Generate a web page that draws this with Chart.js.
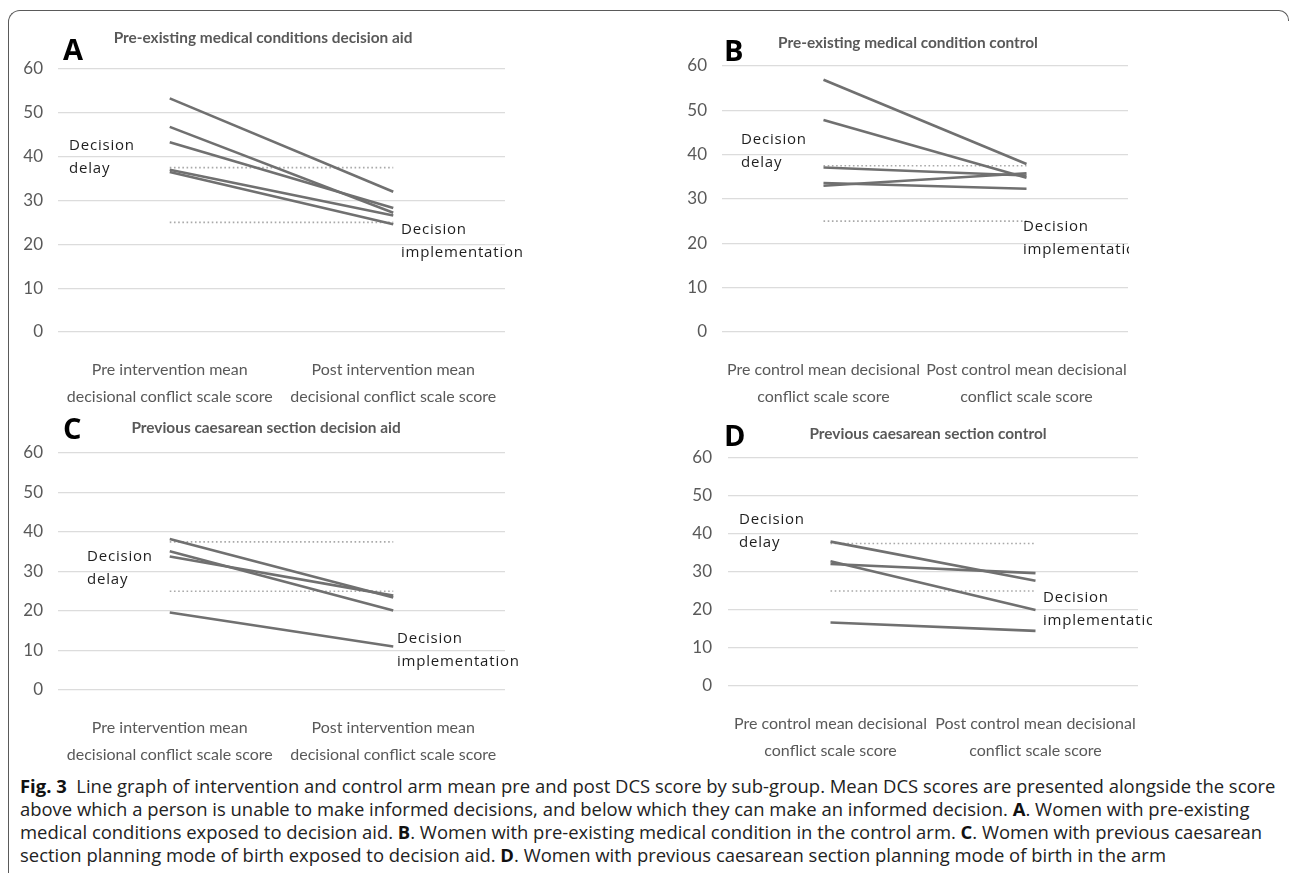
<!DOCTYPE html>
<html>
<head>
<meta charset="utf-8">
<script src="https://cdn.jsdelivr.net/npm/chart.js@4.4.0/dist/chart.umd.min.js"></script>
<style>
  body { margin:0; background:#fff; width:1293px; height:873px; position:relative; overflow:hidden; }
  .frame { position:absolute; left:8px; top:10px; width:1270px; height:900px; border-top:1.5px solid #5a5a5a; border-left:1.5px solid #5a5a5a; border-top-left-radius:12px; }
  .corner { position:absolute; left:1278px; top:10px; width:10px; height:10px; border-top:1.5px solid #5a5a5a; border-right:1.5px solid #5a5a5a; border-top-right-radius:10px; }
  canvas { position:absolute; }
  #caption { position:absolute; left:20px; top:774px; font-family:"Open Sans", sans-serif; font-size:15px; line-height:23px; color:#222; white-space:nowrap; }
  #caption b { color:#111; }
</style>
</head>
<body>
<div class="frame"></div>
<div class="corner"></div>
<canvas id="chartA" width="630" height="400" style="left:10px;top:12px"></canvas>
<canvas id="chartB" width="630" height="400" style="left:650px;top:12px"></canvas>
<canvas id="chartC" width="630" height="350" style="left:10px;top:415px"></canvas>
<canvas id="chartD" width="630" height="346" style="left:650px;top:415px"></canvas>
<div id="caption">
<div id="cap1"><b>Fig. 3</b>&nbsp; Line graph of intervention and control arm mean pre and post DCS score by sub-group. Mean DCS scores are presented alongside the score</div>
<div>above which a person is unable to make informed decisions, and below which they can make an informed decision. <b>A</b>. Women with pre-existing</div>
<div>medical conditions exposed to decision aid. <b>B</b>. Women with pre-existing medical condition in the control arm. <b>C</b>. Women with previous caesarean</div>
<div>section planning mode of birth exposed to decision aid. <b>D</b>. Women with previous caesarean section planning mode of birth in the arm</div>
</div>
<script>
// categories
const labelsIntervention = [['Pre intervention mean', 'decisional conflict scale score'], ['Post intervention mean', 'decisional conflict scale score']];
const labelsControl = [['Pre control mean decisional', 'conflict scale score'], ['Post control mean decisional', 'conflict scale score']];

// mean DCS scores, one line per participant group (pre -> post)
const preA = [53.3, 46.8, 43.3, 37.0, 36.5];
const postA = [32.0, 27.2, 28.3, 26.6, 24.6];
const preB = [56.9, 47.8, 37.1, 33.0, 33.6];
const postB = [37.9, 34.8, 35.3, 35.8, 32.3];
const preC = [38.2, 35.1, 33.8, 19.6];
const postC = [23.4, 20.1, 23.9, 11.0];
const preD = [38.0, 32.1, 32.8, 16.7];
const postD = [27.7, 29.7, 20.0, 14.5];

// thresholds
const delayCut = 37.5;
const implementCut = 25;

const yTicks = [0, 10, 20, 30, 40, 50, 60];

const lineColor = '#707070';

function buildDatasets(pre, post) {
  let ds = pre.map((v, i) => ({
    data: [v, post[i]],
    borderColor: lineColor,
    borderWidth: 2.6,
    pointRadius: 0
  }));
  [delayCut, implementCut].forEach(c => {
    ds.push({
      data: [c, c],
      borderColor: '#a9a9a9',
      borderWidth: 1.6,
      borderDash: [1.6, 2.6],
      pointRadius: 0
    });
  });
  return ds;
}

// letters, titles and the decision delay / implementation notes
const panelText = {
  id: 'panelText',
  afterDraw(chart, args, o) {
    let ctx = chart.ctx;
    ctx.save();
    ctx.textBaseline = 'middle';
    ctx.fillStyle = '#000';
    ctx.font = 'bold 29px "Open Sans"';
    ctx.textAlign = 'left';
    ctx.fillText(o.letter, o.letterX - o.ox, o.letterY - o.oy);

    ctx.fillStyle = '#595959';
    ctx.font = 'bold 15.4px Lato';
    ctx.textAlign = 'center';
    ctx.fillText(o.title, o.titleX - o.ox, o.titleY - o.oy);

    ctx.textAlign = 'left';
    ctx.fillStyle = '#1e1e1e';
    ctx.font = '15px "Open Sans"';
    ctx.letterSpacing = '0.8px';
    ctx.fillText('Decision', o.delay[0] - o.ox, o.delay[1] - o.oy);
    ctx.fillText('delay', o.delay[0] - o.ox, o.delay[1] + 23 - o.oy);
    ctx.beginPath();
    ctx.rect(0, 0, o.clipX - o.ox, chart.height);
    ctx.clip();
    ctx.fillText('Decision', o.impl[0] - o.ox, o.impl[1] - o.oy);
    ctx.fillText('implementation', o.impl[0] - o.ox, o.impl[1] + 23 - o.oy);
    ctx.restore();
  }
};

function makePanel(id, labels, pre, post, g) {
  let ctx = document.getElementById(id).getContext('2d');
  return new Chart(ctx, {
    type: 'line',
    data: { labels: labels, datasets: buildDatasets(pre, post) },
    options: {
      responsive: false,
      animation: false,
      layout: { padding: { left: 0, top: g.padTop, right: g.padRight, bottom: 0 } },
      plugins: {
        legend: { display: false },
        tooltip: { enabled: false },
        panelText: g.text
      },
      scales: {
        x: {
          offset: true,
          grid: { display: false },
          border: { display: false },
          ticks: {
            color: '#595959',
            font: { family: 'Lato', size: 16, lineHeight: 1.7 },
            padding: 16,
            maxRotation: 0,
            autoSkip: false
          },
          afterFit: s => { s.height = g.xHeight; }
        },
        y: {
          min: 0,
          max: 60,
          afterBuildTicks: s => { s.ticks = yTicks.map(v => ({ value: v })); },
          grid: { color: '#dcdcdc', lineWidth: 1.2, drawTicks: false },
          border: { display: false },
          ticks: {
            color: '#595959',
            font: { family: 'Lato', size: 17 },
            padding: g.yPad
          },
          afterFit: s => { s.width = g.yWidth; }
        }
      }
    },
    plugins: [panelText]
  });
}

makePanel('chartA', labelsIntervention, preA, postA, {
  padTop: 57, padRight: 135, xHeight: 80, yWidth: 48, yPad: 15,
  text: { ox: 10, oy: 12, letter: 'A', letterX: 63, letterY: 52, title: 'Pre-existing medical conditions decision aid', titleX: 263, titleY: 38,
    delay: [69, 146], impl: [401, 230], clipX: 640 }
});
makePanel('chartB', labelsControl, preB, postB, {
  padTop: 54, padRight: 152, xHeight: 80, yWidth: 72, yPad: 15,
  text: { ox: 650, oy: 12, letter: 'B', letterX: 724, letterY: 53, title: 'Pre-existing medical condition control', titleX: 908, titleY: 43,
    delay: [741, 140], impl: [1023, 227], clipX: 1129 }
});
makePanel('chartC', labelsIntervention, preC, postC, {
  padTop: 38, padRight: 135, xHeight: 75, yWidth: 48, yPad: 15,
  text: { ox: 10, oy: 415, letter: 'C', letterX: 63, letterY: 431, title: 'Previous caesarean section decision aid', titleX: 266, titleY: 428,
    delay: [87, 557], impl: [397, 639], clipX: 640 }
});
makePanel('chartD', labelsControl, preD, postD, {
  padTop: 43, padRight: 142, xHeight: 75, yWidth: 78, yPad: 16,
  text: { ox: 650, oy: 415, letter: 'D', letterX: 724, letterY: 438, title: 'Previous caesarean section control', titleX: 928, titleY: 434,
    delay: [739, 520], impl: [1043, 598], clipX: 1152 }
});

// fit caption font so the first line spans like the original
let cap = document.getElementById('caption');
let w = document.getElementById('cap1').getBoundingClientRect().width;
cap.style.fontSize = (15 * 1257 / w).toFixed(2) + 'px';
</script>
</body>
</html>
